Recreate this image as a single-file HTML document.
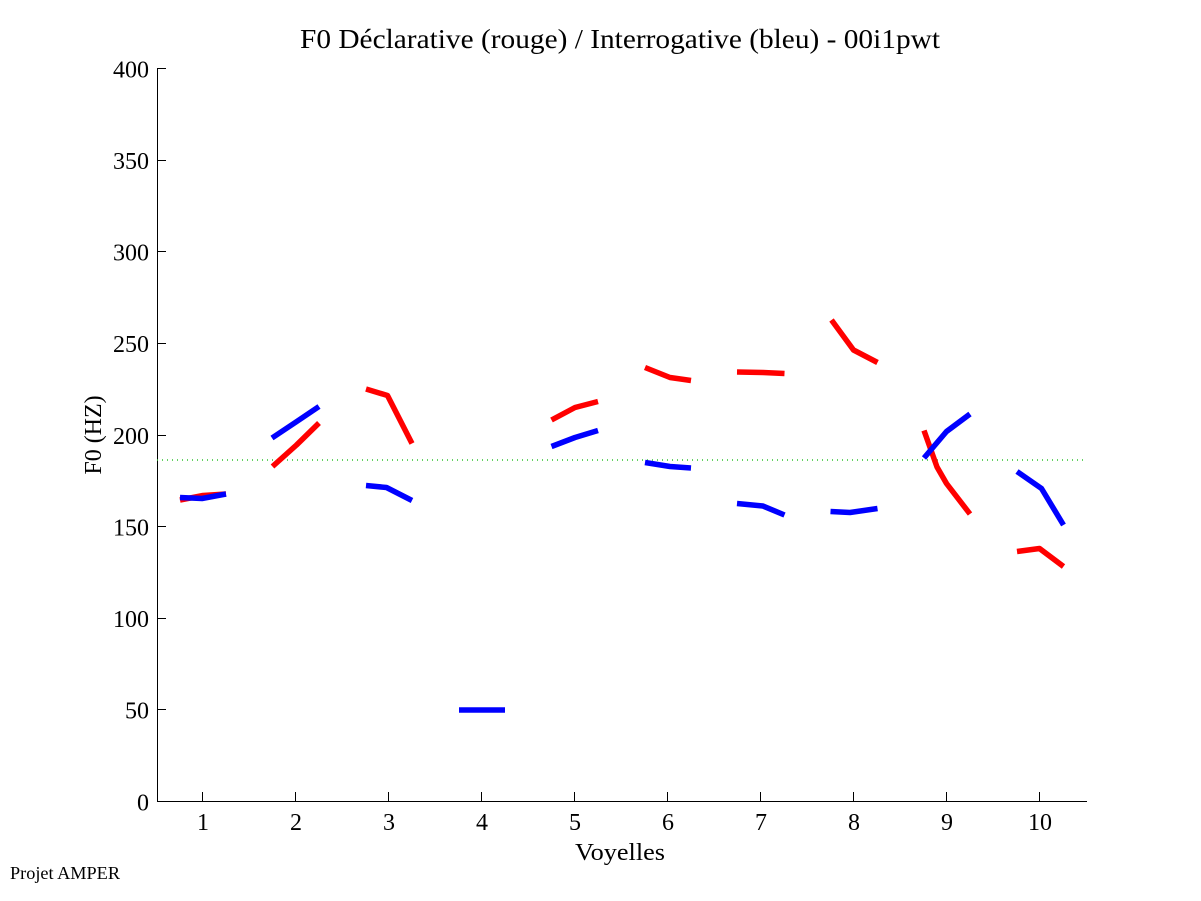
<!DOCTYPE html>
<html>
<head>
<meta charset="utf-8">
<style>
html,body{margin:0;padding:0;background:#fff;}
svg{display:block;}
text{font-family:"Liberation Serif","Times New Roman",serif;fill:#000;}
</style>
</head>
<body>
<svg width="1201" height="901" viewBox="0 0 1201 901" xmlns="http://www.w3.org/2000/svg">
<rect x="0" y="0" width="1201" height="901" fill="#fff"/>
<!-- title -->
<text x="300" y="48" font-size="27" textLength="640" lengthAdjust="spacingAndGlyphs">F0 Déclarative (rouge) / Interrogative (bleu) - 00i1pwt</text>

<!-- axes -->
<g stroke="#000" stroke-width="1" fill="none">
<line x1="157.5" y1="68" x2="157.5" y2="802"/>
<line x1="157" y1="801.5" x2="1087" y2="801.5"/>
<!-- y ticks -->
<line x1="157" y1="68.5" x2="166" y2="68.5"/>
<line x1="157" y1="160.5" x2="166" y2="160.5"/>
<line x1="157" y1="251.5" x2="166" y2="251.5"/>
<line x1="157" y1="343.5" x2="166" y2="343.5"/>
<line x1="157" y1="435.5" x2="166" y2="435.5"/>
<line x1="157" y1="526.5" x2="166" y2="526.5"/>
<line x1="157" y1="618.5" x2="166" y2="618.5"/>
<line x1="157" y1="709.5" x2="166" y2="709.5"/>
<!-- x ticks -->
<line x1="202.5" y1="792" x2="202.5" y2="801"/>
<line x1="295.5" y1="792" x2="295.5" y2="801"/>
<line x1="388.5" y1="792" x2="388.5" y2="801"/>
<line x1="481.5" y1="792" x2="481.5" y2="801"/>
<line x1="574.5" y1="792" x2="574.5" y2="801"/>
<line x1="667.5" y1="792" x2="667.5" y2="801"/>
<line x1="760.5" y1="792" x2="760.5" y2="801"/>
<line x1="853.5" y1="792" x2="853.5" y2="801"/>
<line x1="946.5" y1="792" x2="946.5" y2="801"/>
<line x1="1039.5" y1="792" x2="1039.5" y2="801"/>
</g>

<!-- y tick labels -->
<g font-size="24" text-anchor="end">
<text x="149" y="77.5">400</text>
<text x="149" y="169">350</text>
<text x="149" y="260.5">300</text>
<text x="149" y="352">250</text>
<text x="149" y="444">200</text>
<text x="149" y="535.5">150</text>
<text x="149" y="627">100</text>
<text x="149" y="718.5">50</text>
<text x="149" y="810.5">0</text>
</g>
<!-- x tick labels -->
<g font-size="24" text-anchor="middle">
<text x="203" y="830">1</text>
<text x="296" y="830">2</text>
<text x="389" y="830">3</text>
<text x="482" y="830">4</text>
<text x="575" y="830">5</text>
<text x="668" y="830">6</text>
<text x="761" y="830">7</text>
<text x="854" y="830">8</text>
<text x="947" y="830">9</text>
<text x="1040" y="830">10</text>
</g>
<text x="575" y="860" font-size="24" textLength="90" lengthAdjust="spacingAndGlyphs">Voyelles</text>
<text transform="translate(101,435) rotate(-90)" font-size="24" text-anchor="middle">F0 (HZ)</text>
<text x="10" y="879" font-size="18" textLength="110" lengthAdjust="spacingAndGlyphs">Projet AMPER</text>

<!-- green reference line -->
<line x1="157" y1="460" x2="1087" y2="460" stroke="#2fc42f" stroke-width="1.5" stroke-dasharray="1 4"/>

<!-- red series (declarative) -->
<g stroke="#ff0000" stroke-width="5.5" fill="none" stroke-linejoin="round" stroke-linecap="butt">
<polyline points="180,500 203,495.5 226,494"/>
<polyline points="272.5,466.5 296.5,445 319,423"/>
<polyline points="366,389 387.5,395.5 412,443.5"/>
<polyline points="551.5,420 575,407.5 598,401.5"/>
<polyline points="645,367.5 670,377.5 691,380.5"/>
<polyline points="737,372 763,372.5 784.5,373.5"/>
<polyline points="831.5,320 853.5,350 877.5,362.5"/>
<polyline points="924,430.5 937,467 946.5,483.5 970,514"/>
<polyline points="1017,551.5 1039.5,548.5 1063.5,566.5"/>
</g>

<!-- blue series (interrogative) -->
<g stroke="#0000ff" stroke-width="5.5" fill="none" stroke-linejoin="round" stroke-linecap="butt">
<polyline points="180,497.5 202,498.5 226,494"/>
<polyline points="272,438 296,422 319,406.5"/>
<polyline points="366,485.5 386.5,487.5 412,500.5"/>
<polyline points="459,710 505,710"/>
<polyline points="551.5,446.5 575,437.5 598,430.5"/>
<polyline points="645,462.5 670,466.5 691,468"/>
<polyline points="737,503.5 763,506 784.5,515"/>
<polyline points="830.5,511.5 850,512.5 877.5,508.5"/>
<polyline points="924,458 946.5,431.5 970,414"/>
<polyline points="1017,471.5 1041.5,488.5 1063.5,525"/>
</g>
</svg>
</body>
</html>
